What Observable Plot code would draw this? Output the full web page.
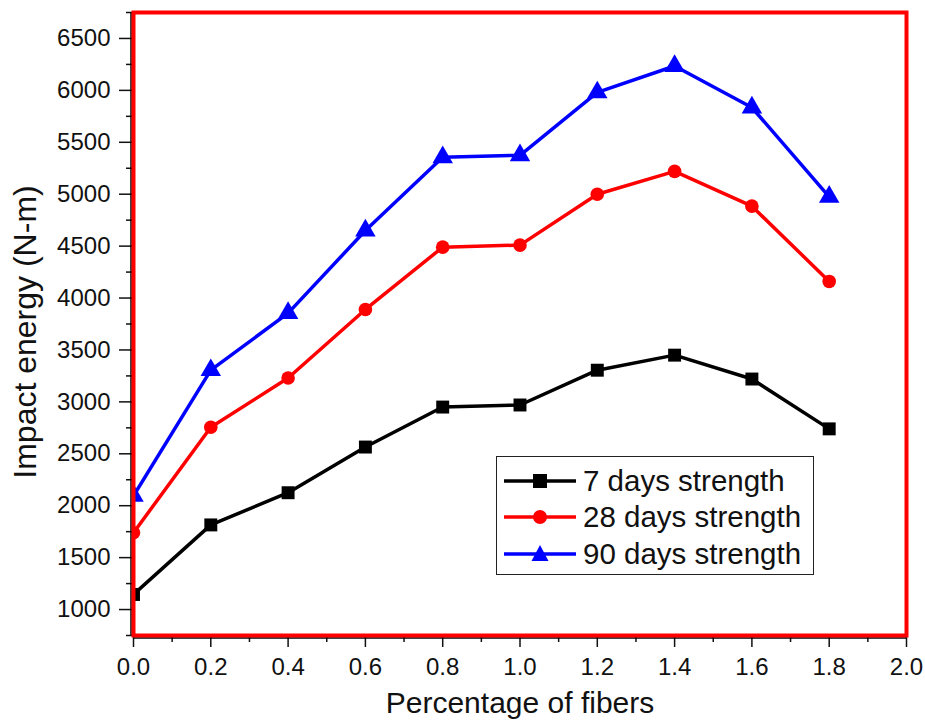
<!DOCTYPE html>
<html><head><meta charset="utf-8">
<script src="https://cdn.jsdelivr.net/npm/d3@7"></script>
<script src="https://cdn.jsdelivr.net/npm/@observablehq/plot@0.6"></script>
<style>
body{margin:0;background:#fff;}
#wrap{position:relative;width:925px;height:728px;font-family:"Liberation Sans",Arial,sans-serif;}
#legend{position:absolute;left:496px;top:456px;width:316px;height:117px;border:1.5px solid #222;background:#fff;box-sizing:content-box;}
.row{position:absolute;left:0;height:36px;display:flex;align-items:center;}
.row svg{margin-left:7px;}
.row span{margin-left:7px;font-size:29.5px;color:#111;white-space:nowrap;}
</style>
</head><body><div id="wrap"></div>
<script>
const fibers = [0.0, 0.2, 0.4, 0.6, 0.8, 1.0, 1.2, 1.4, 1.6, 1.8];
const day7  = [1145, 1815, 2125, 2565, 2950, 2970, 3305, 3450, 3220, 2740];
const day28 = [1740, 2755, 3230, 3890, 4490, 4510, 5000, 5220, 4885, 4160];
const day90 = [2095, 3305, 3855, 4650, 5355, 5375, 5980, 6235, 5835, 4975];
const seriesNames = ["7 days strength", "28 days strength", "90 days strength"];
const seriesColors = ["#000000", "#ff0000", "#0000ff"];
const seriesSymbols = ["square", "circle", "triangle"];
const xMajorTicks = [0.0, 0.2, 0.4, 0.6, 0.8, 1.0, 1.2, 1.4, 1.6, 1.8, 2.0];
const xMinorTicks = [0.1, 0.3, 0.5, 0.7, 0.9, 1.1, 1.3, 1.5, 1.7, 1.9];
const yMajorTicks = [1000, 1500, 2000, 2500, 3000, 3500, 4000, 4500, 5000, 5500, 6000, 6500];
const yMinorTicks = [750, 1250, 1750, 2250, 2750, 3250, 3750, 4250, 4750, 5250, 5750, 6250, 6750];
const xLabel = "Percentage of fibers";
const yLabel = "Impact energy (N-m)";

const allSeries = [day7, day28, day90];
const tables = allSeries.map(vals => fibers.map((f, i) => ({x: f, y: vals[i]})));
const symbolR = {square: 7.3, circle: 6.8, triangle: 7.6};

const marks = [
  Plot.axisY(yMinorTicks, {tickSize: 7, tickFormat: () => "", label: null, strokeWidth: 1.5}),
  Plot.axisY(yMajorTicks, {tickSize: 14, tickPadding: 9, tickFormat: d => String(d), label: null, strokeWidth: 1.5, fontSize: 24}),
  Plot.axisX(xMinorTicks, {tickSize: 7, tickFormat: () => "", label: null, strokeWidth: 1.5}),
  Plot.axisX(xMajorTicks, {tickSize: 12, tickPadding: 10, tickFormat: d => d.toFixed(1), label: null, strokeWidth: 1.5, fontSize: 24}),
  Plot.ruleX([0], {dx: -2.5, strokeWidth: 1.5, stroke: "#000"}),
  Plot.ruleY([750], {dy: 2.5, strokeWidth: 1.5, stroke: "#000"})
];
tables.forEach((t, i) => {
  marks.push(Plot.line(t, {x: "x", y: "y", stroke: seriesColors[i], strokeWidth: 3.5, clip: "frame"}));
});
tables.forEach((t, i) => {
  marks.push(Plot.dot(t, {x: "x", y: "y", symbol: seriesSymbols[i], r: symbolR[seriesSymbols[i]], fill: seriesColors[i], stroke: "none", clip: "frame"}));
});
marks.push(Plot.frame({stroke: "#ff0000", strokeWidth: 4}));
marks.push(Plot.text([yLabel], {text: d => d, frameAnchor: "left", textAnchor: "middle", dx: -108, dy: 8, rotate: -90, fontSize: 32, fill: "#111"}));
marks.push(Plot.text([xLabel], {text: d => d, frameAnchor: "bottom", textAnchor: "middle", dy: 77, fontSize: 30, fill: "#111"}));

const chart = Plot.plot({
  width: 925, height: 728,
  marginLeft: 133, marginRight: 19, marginTop: 12, marginBottom: 93,
  x: {domain: [0, 2]},
  y: {domain: [750, 6750]},
  style: {fontFamily: "'Liberation Sans', Arial, sans-serif", fontSize: "24px", color: "#111", background: "white", overflow: "visible"},
  marks
});
const wrap = document.getElementById("wrap");
wrap.appendChild(chart);

// legend
const legend = document.createElement("div");
legend.id = "legend";
const rowTops = [6, 42, 79];
seriesNames.forEach((name, i) => {
  const row = document.createElement("div");
  row.className = "row";
  row.style.top = rowTops[i] + "px";
  const c = seriesColors[i];
  let sym;
  if (seriesSymbols[i] === "square") sym = `<rect x="29" y="11" width="14" height="14" fill="${c}"/>`;
  else if (seriesSymbols[i] === "circle") sym = `<circle cx="36" cy="18" r="7" fill="${c}"/>`;
  else sym = `<polygon points="36,9 44.5,25 27.5,25" fill="${c}"/>`;
  row.innerHTML = `<svg width="72" height="36"><line x1="0" y1="18" x2="72" y2="18" stroke="${c}" stroke-width="3.5"/>${sym}</svg><span>${name}</span>`;
  legend.appendChild(row);
});
wrap.appendChild(legend);
</script>
</body></html>
